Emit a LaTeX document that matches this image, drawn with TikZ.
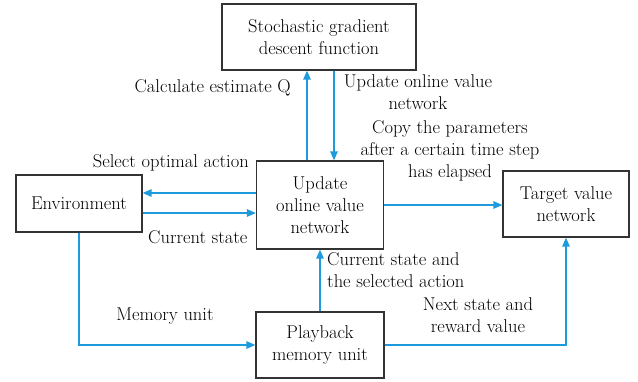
\documentclass[tikz,border=0pt]{standalone}
\usepackage{tikz}
\usetikzlibrary{calc, arrows.meta, positioning}
\definecolor{lineBlue}{RGB}{30,155,220}
\definecolor{boxGray}{gray}{0.2}

\begin{document}
\begin{tikzpicture}[x=1pt, y=-1pt, >={Triangle[length=9pt,width=7.5pt]},
    box/.style={draw=boxGray, line width=1.3pt, align=center, inner sep=0pt},
    flow/.style={->, lineBlue, line width=1.4pt},
    lbl/.style={align=center, inner sep=0pt},
    every node/.style={font=\fontsize{18.5}{22}\selectfont}]
    \useasboundingbox (0,0) rectangle (638,381);

    \node[box, minimum width=194pt, minimum height=66pt] (sgd) at (319,37) {Stochastic gradient\\descent function};
    \node[box, minimum width=126pt, minimum height=57pt] (env) at (79,203.5) {Environment};
    \node[box, minimum width=127pt, minimum height=88pt] (upd) at (320,205) {Update\\online value\\network};
    \node[box, minimum width=126pt, minimum height=66pt] (tgt) at (566,204) {Target value\\network};
    \node[box, minimum width=128pt, minimum height=66pt] (play) at (320,345) {Playback\\memory unit};

    \draw[flow] ([xshift=-13pt]upd.north) -- ([xshift=-13pt]upd.north |- sgd.south);
    \draw[flow] ([xshift=14pt]upd.north |- sgd.south) -- ([xshift=14pt]upd.north);
    \draw[flow] ([yshift=12pt]upd.west) -- ([yshift=12pt]upd.west -| env.east);
    \draw[flow] ([yshift=-9.5pt]env.east) -- ([yshift=-9.5pt]env.east -| upd.west);
    \draw[flow] (upd.east) -- (upd.east -| tgt.west);
    \draw[flow] (env.south) |- (play.west);
    \draw[flow] (play.north) -- (upd.south);
    \draw[flow] (play.east) -| (tgt.south);

    \node[lbl, anchor=east] (calc) at (291,88) {Calculate estimate Q};
    \node[lbl] (updtxt) at (418,92) {Update online value\\network};
    \node[lbl] (copy) at (450,151) {Copy the parameters\\after a certain time step\\has elapsed};
    \node[lbl, anchor=east] (select) at (249,163) {Select optimal action};
    \node[lbl, anchor=west] (cur) at (148,237) {Current state};
    \node[lbl, align=left, anchor=west] (cursel) at (327,270) {Current state and\\the selected action};
    \node[lbl] (mem) at (165,316) {Memory unit};
    \node[lbl] (next) at (478,315) {Next state and\\reward value};
\end{tikzpicture}
\end{document}
